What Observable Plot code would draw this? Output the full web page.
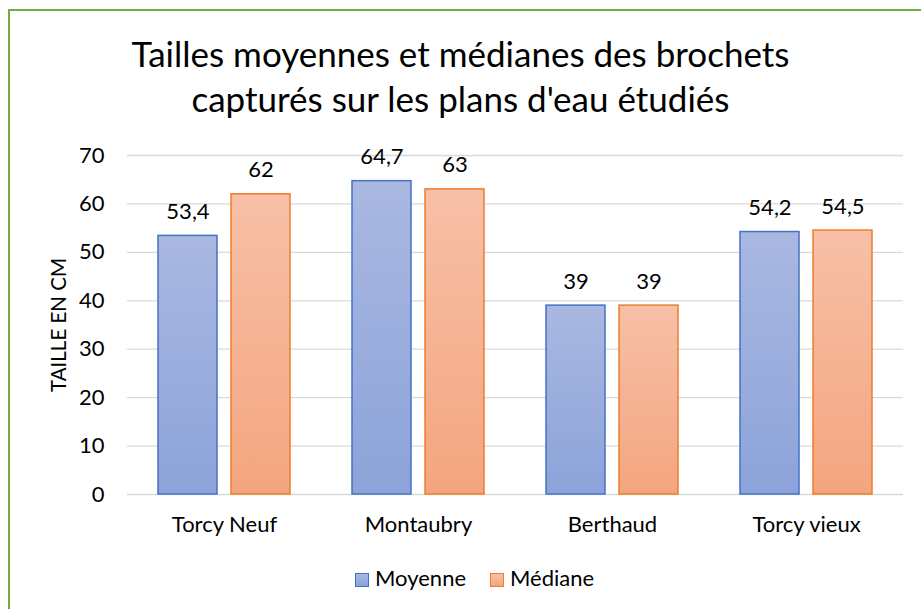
<!DOCTYPE html>
<html>
<head>
<meta charset="utf-8">
<script src="https://cdn.jsdelivr.net/npm/d3@7"></script>
<script src="https://cdn.jsdelivr.net/npm/@observablehq/plot@0.6"></script>
<style>
  html, body { margin: 0; padding: 0; background: #fff; overflow: hidden; }
  #wrap { position: relative; width: 921px; height: 609px; overflow: hidden; font-family: Lato, "Open Sans", sans-serif; color: #000; }
  #frame { position: absolute; left: 8px; top: 9px; width: 1000px; height: 1000px; border: 2.5px solid #70AD47; box-sizing: border-box; }
  #title { position: absolute; left: 0; top: 31px; width: 921px; text-align: center; font-size: 35px; line-height: 45px; white-space: nowrap; }
  #ylabel { position: absolute; left: 58px; top: 325px; transform: translate(-50%, -50%) rotate(-90deg); font-size: 20.5px; white-space: nowrap; }
  #chart { position: absolute; left: 0; top: 0; }
  .leg { position: absolute; top: 564.5px; font-size: 22px; line-height: 26px; white-space: nowrap; }
  .sw { display: inline-block; width: 12px; height: 12px; border: 1.5px solid; vertical-align: -1px; margin-right: 6px; }
</style>
</head>
<body>
<div id="wrap">
  <div id="frame"></div>
  <div id="chart"></div>
  <div id="title"></div>
  <div id="ylabel"></div>
  <div id="legend"></div>
</div>
<script>
const titleLines = ["Tailles moyennes et médianes des brochets", "capturés sur les plans d'eau étudiés"];
const yLabel = "TAILLE EN CM";
const categories = ["Torcy Neuf", "Montaubry", "Berthaud", "Torcy vieux"];
const series = ["Moyenne", "Médiane"];
const moyenne = [53.4, 64.7, 39, 54.2];
const mediane = [62, 63, 39, 54.5];
const yTicks = [0, 10, 20, 30, 40, 50, 60, 70];

const strokeColors = {"Moyenne": "#4472C4", "Médiane": "#ED7D31"};
const fillIds = {"Moyenne": "url(#gMoy)", "Médiane": "url(#gMed)"};

const data = categories.flatMap((c, i) => [
  {cat: c, serie: series[0], value: moyenne[i]},
  {cat: c, serie: series[1], value: mediane[i]}
]);
const fmt = v => String(v).replace(".", ",");

const barMarks = series.map(s => Plot.barY(data.filter(d => d.serie === s), {
  fx: "cat", x: "serie", y: "value",
  fill: fillIds[s], stroke: strokeColors[s], strokeWidth: 1.5
}));

const chart = Plot.plot({
  width: 921, height: 609,
  marginLeft: 126, marginRight: 17, marginTop: 155, marginBottom: 115,
  style: {fontFamily: "Lato, 'Open Sans', sans-serif", fontSize: "22px", color: "#000", background: "transparent", overflow: "visible"},
  fx: {domain: categories, padding: 0, label: null},
  x: {domain: series, paddingInner: 0.196, paddingOuter: 0.412, axis: null},
  y: {domain: [0, 70], label: null},
  marks: [
    Plot.gridY(yTicks, {stroke: "#D9D9D9", strokeOpacity: 1, strokeWidth: 1.3}),
    ...barMarks,
    Plot.text(data, {fx: "cat", x: "serie", y: "value", text: d => fmt(d.value), lineAnchor: "bottom", dy: -17, fill: "#000", fontSize: 22}),
    Plot.axisY(yTicks, {tickSize: 0, tickPadding: 23, label: null, fontSize: 22, tickFormat: d => String(d)}),
    Plot.axisFx({anchor: "bottom", tickSize: 0, tickPadding: 22, fontSize: 22, label: null})
  ]
});

const svg = d3.select(chart);
const defs = svg.insert("defs", ":first-child");
const grads = [
  {id: "gMoy", top: "#AAB8E1", bottom: "#8CA3D9"},
  {id: "gMed", top: "#F7C0A7", bottom: "#F4A57F"}
];
for (const g of grads) {
  const lg = defs.append("linearGradient").attr("id", g.id).attr("x1", 0).attr("y1", 0).attr("x2", 0).attr("y2", 1);
  lg.append("stop").attr("offset", "0%").attr("stop-color", g.top);
  lg.append("stop").attr("offset", "100%").attr("stop-color", g.bottom);
}
document.getElementById("chart").appendChild(chart);

document.getElementById("title").innerHTML = titleLines.map(t => `<div>${t}</div>`).join("");
document.getElementById("ylabel").textContent = yLabel;

const legendPos = [355, 490];
const legendFill = {"Moyenne": "linear-gradient(#AAB8E1, #8CA3D9)", "Médiane": "linear-gradient(#F7C0A7, #F4A57F)"};
document.getElementById("legend").innerHTML = series.map((s, i) =>
  `<div class="leg" style="left:${legendPos[i]}px"><span class="sw" style="border-color:${strokeColors[s]};background:${legendFill[s]}"></span>${s}</div>`
).join("");
</script>
</body>
</html>
